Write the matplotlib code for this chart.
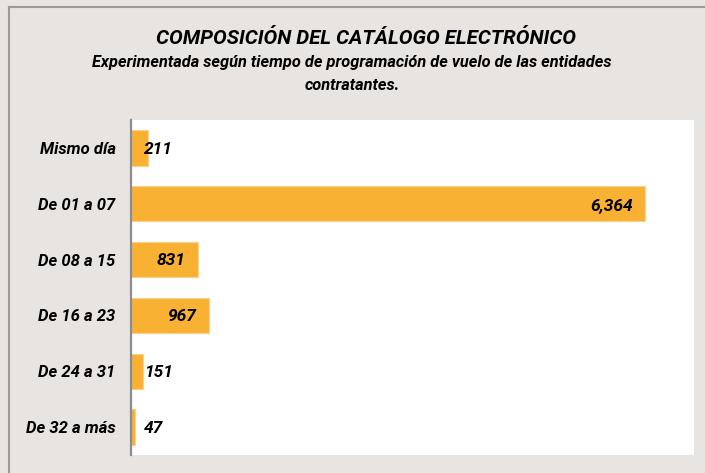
import matplotlib.pyplot as plt
from matplotlib.lines import Line2D

# data
categories = ['Mismo día', 'De 01 a 07', 'De 08 a 15', 'De 16 a 23', 'De 24 a 31', 'De 32 a más']
values = [211, 6364, 831, 967, 151, 47]

bg = '#E8E4E1'
bar_color = '#F8B133'
font = ['Roboto', 'DejaVu Sans']

fig = plt.figure(figsize=(7.05, 4.73), dpi=100, facecolor=bg)
ax = fig.add_axes([131/705, 1 - 455/473, (694-131)/705, (455-120)/473])
ax.set_facecolor('white')

y = list(range(len(categories)))
ax.barh(y, values, height=0.63, color=bar_color, edgecolor='#FAD08A', linewidth=0.8)
ax.set_ylim(len(categories) - 0.5, -0.5)
ax.set_xlim(0, 6970)

ax.set_yticks(y)
ax.set_yticklabels(categories, family=font, fontsize=12, fontweight='bold', style='italic')
ax.tick_params(axis='y', length=0, pad=11)
ax.set_xticks([])

for s in ['top', 'right', 'bottom']:
    ax.spines[s].set_visible(False)
ax.spines['left'].set_color('#8C8C8C')
ax.spines['left'].set_linewidth(1.6)

# value labels: inside end for long bars, just right of the axis for short ones
for yi, v in zip(y, values):
    txt = f'{v:,}'
    if v > 500:
        ax.annotate(txt, (v, yi), xytext=(-9, -1), textcoords='offset points',
                    ha='right', va='center', family=font, fontsize=12.5,
                    fontweight='bold', style='italic')
    else:
        ax.annotate(txt, (0, yi), xytext=(9.5, -1), textcoords='offset points',
                    ha='left', va='center', family=font, fontsize=12.5,
                    fontweight='bold', style='italic')

fig.text(366/705, 1 - 38/473, 'COMPOSICIÓN DEL CATÁLOGO ELECTRÓNICO', ha='center', va='center',
         family=font, fontsize=14.8, fontweight='bold', style='italic')
fig.text(352/705, 1 - 62/473, 'Experimentada según tiempo de programación de vuelo de las entidades',
         ha='center', va='center', family=font, fontsize=11.8, fontweight='bold', style='italic')
fig.text(352/705, 1 - 85/473, 'contratantes.', ha='center', va='center',
         family=font, fontsize=11.8, fontweight='bold', style='italic')

# frame lines on top and left of the picture
fig.add_artist(Line2D([9/705, 9/705], [0, 1 - 7/473], transform=fig.transFigure, color='#9A9A9A', lw=1.5))
fig.add_artist(Line2D([9/705, 1], [1 - 7/473, 1 - 7/473], transform=fig.transFigure, color='#9A9A9A', lw=1.5))

fig.savefig('out.png', dpi=100, facecolor=bg)
